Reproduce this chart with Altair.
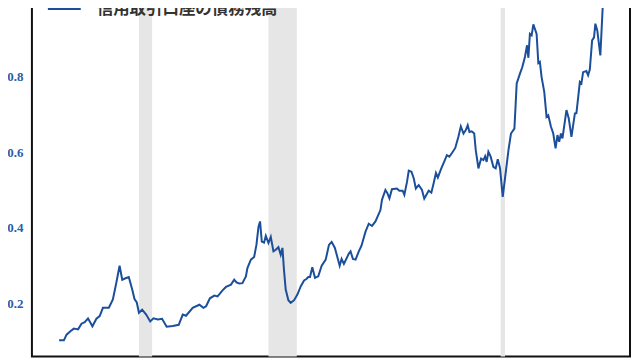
import altair as alt
import pandas as pd

series_name = "信用取引口座の債務残高"

years = [
    1997.07, 1997.32, 1997.46, 1997.66, 1997.84, 1998.06, 1998.24, 1998.41, 1998.58, 1998.81,
    1999.02, 1999.19, 1999.36, 1999.67, 1999.88, 2000.06, 2000.23, 2000.37, 2000.54, 2000.71,
    2000.89, 2001.01, 2001.13, 2001.24, 2001.41, 2001.62, 2001.83, 2002.00, 2002.23, 2002.45,
    2002.69, 2003.01, 2003.32, 2003.53, 2003.70, 2004.05, 2004.40, 2004.61, 2004.75, 2004.95,
    2005.18, 2005.35, 2005.61, 2005.79, 2006.05, 2006.22, 2006.34, 2006.48, 2006.65, 2006.83,
    2006.91, 2007.09, 2007.26, 2007.38, 2007.49, 2007.57, 2007.66, 2007.78, 2007.87, 2008.01,
    2008.13, 2008.27, 2008.39, 2008.53, 2008.65, 2008.74, 2008.82, 2008.91, 2009.05, 2009.17,
    2009.35, 2009.52, 2009.70, 2009.87, 2009.99, 2010.09, 2010.18, 2010.30, 2010.44, 2010.61,
    2010.79, 2011.00, 2011.17, 2011.31, 2011.48, 2011.73, 2011.83, 2011.95, 2012.21, 2012.30,
    2012.42, 2012.56, 2012.73, 2012.87, 2013.08, 2013.25, 2013.42, 2013.60, 2013.86, 2013.94,
    2014.12, 2014.21, 2014.33, 2014.46, 2014.72, 2014.85, 2015.02, 2015.11, 2015.25, 2015.34,
    2015.48, 2015.60, 2015.71, 2015.86, 2016.03, 2016.15, 2016.38, 2016.52, 2016.64, 2016.76,
    2016.86, 2017.04, 2017.21, 2017.33, 2017.46, 2017.59, 2017.77, 2017.94, 2018.06, 2018.20,
    2018.32, 2018.42, 2018.51, 2018.63, 2018.76, 2018.84, 2018.98, 2019.12, 2019.24, 2019.33,
    2019.41, 2019.50, 2019.62, 2019.76, 2019.88, 2019.99, 2020.11, 2020.25, 2020.37, 2020.55,
    2020.68, 2020.86, 2020.91, 2020.98, 2021.15, 2021.27, 2021.41, 2021.52, 2021.59, 2021.67,
    2021.76, 2021.85, 2022.02, 2022.11, 2022.19, 2022.28, 2022.42, 2022.54, 2022.63, 2022.77,
    2022.89, 2023.01, 2023.11, 2023.20, 2023.29, 2023.37, 2023.58, 2023.70, 2023.84, 2024.02,
    2024.10, 2024.28, 2024.36, 2024.45, 2024.62, 2024.71, 2024.80, 2024.92, 2025.02, 2025.09,
    2025.19, 2025.35, 2025.49, 2025.55,
]

values = [
    0.103, 0.103, 0.118, 0.127, 0.134, 0.132, 0.147, 0.151, 0.161, 0.140,
    0.160, 0.167, 0.189, 0.189, 0.211, 0.255, 0.300, 0.263, 0.267, 0.270,
    0.237, 0.212, 0.203, 0.176, 0.184, 0.171, 0.153, 0.161, 0.158, 0.160,
    0.139, 0.141, 0.144, 0.171, 0.168, 0.189, 0.197, 0.189, 0.193, 0.214,
    0.221, 0.219, 0.235, 0.244, 0.250, 0.263, 0.256, 0.253, 0.254, 0.272,
    0.294, 0.316, 0.323, 0.355, 0.403, 0.417, 0.364, 0.361, 0.379, 0.360,
    0.376, 0.338, 0.342, 0.349, 0.329, 0.347, 0.289, 0.237, 0.209, 0.202,
    0.209, 0.224, 0.246, 0.261, 0.265, 0.270, 0.270, 0.296, 0.268, 0.272,
    0.300, 0.316, 0.355, 0.363, 0.347, 0.300, 0.318, 0.305, 0.332, 0.338,
    0.318, 0.316, 0.338, 0.353, 0.390, 0.411, 0.405, 0.417, 0.447, 0.474,
    0.500, 0.493, 0.478, 0.502, 0.504, 0.498, 0.498, 0.487, 0.522, 0.551,
    0.548, 0.531, 0.504, 0.513, 0.500, 0.477, 0.498, 0.493, 0.518, 0.545,
    0.533, 0.557, 0.577, 0.592, 0.588, 0.597, 0.611, 0.642, 0.668, 0.649,
    0.658, 0.671, 0.653, 0.655, 0.649, 0.605, 0.557, 0.583, 0.579, 0.589,
    0.574, 0.601, 0.588, 0.561, 0.557, 0.581, 0.557, 0.482, 0.531, 0.605,
    0.649, 0.662, 0.711, 0.781, 0.807, 0.824, 0.851, 0.882, 0.849, 0.912,
    0.908, 0.937, 0.912, 0.835, 0.838, 0.798, 0.759, 0.693, 0.697, 0.667,
    0.649, 0.610, 0.645, 0.627, 0.649, 0.636, 0.711, 0.689, 0.640, 0.702,
    0.703, 0.785, 0.781, 0.811, 0.814, 0.803, 0.818, 0.895, 0.903, 0.939,
    0.921, 0.855, 1.000, 1.026,
]

rec_start = [2001.24, 2008.01, 2020.14]
rec_end = [2001.93, 2009.49, 2020.37]
y_ticks = [0.2, 0.4, 0.6, 0.8, 1.0]

df = pd.DataFrame({"year": years, "value": values, "series": series_name})
rec = pd.DataFrame({"start": rec_start, "end": rec_end})

xscale = alt.Scale(domain=[1995.65, 2026.90], nice=False, zero=False)
yscale = alt.Scale(domain=[0.0605, 1.0526], nice=False, zero=False)

bands = alt.Chart(rec).mark_rect(color="#e6e6e6").encode(
    x=alt.X("start:Q", scale=xscale, axis=None),
    x2="end:Q",
)

line = alt.Chart(df).mark_line(strokeWidth=2).encode(
    x=alt.X("year:Q", scale=xscale, axis=None),
    y=alt.Y(
        "value:Q",
        scale=yscale,
        axis=alt.Axis(
            values=y_ticks,
            format=".1f",
            title=None,
            domain=False,
            ticks=False,
            grid=False,
            labelPadding=9,
            labelFont="Liberation Serif",
            labelFontWeight="bold",
            labelFontSize=13,
            labelColor="#2b5ba8",
        ),
    ),
    color=alt.Color(
        "series:N",
        scale=alt.Scale(domain=[series_name], range=["#1b4f9b"]),
        legend=alt.Legend(
            title=None,
            orient="none",
            legendX=15,
            legendY=11,
            padding=0,
            symbolType="stroke",
            symbolSize=1089,
            symbolStrokeWidth=2,
            labelOffset=15,
            labelLimit=400,
            labelFont="Noto Sans CJK JP",
            labelFontWeight="bold",
            labelFontSize=16.5,
            labelColor="#333333",
        ),
    ),
)

chart = (
    alt.layer(bands, line)
    .properties(
        width=600,
        height=377,
        autosize=alt.AutoSizeParams(type="none"),
        padding={"left": 24, "top": -28, "right": 2, "bottom": 3},
        background="white",
    )
    .configure_view(stroke="#111111", strokeWidth=2)
)

chart.save("out.html", embed_options={"renderer": "svg", "actions": False})
